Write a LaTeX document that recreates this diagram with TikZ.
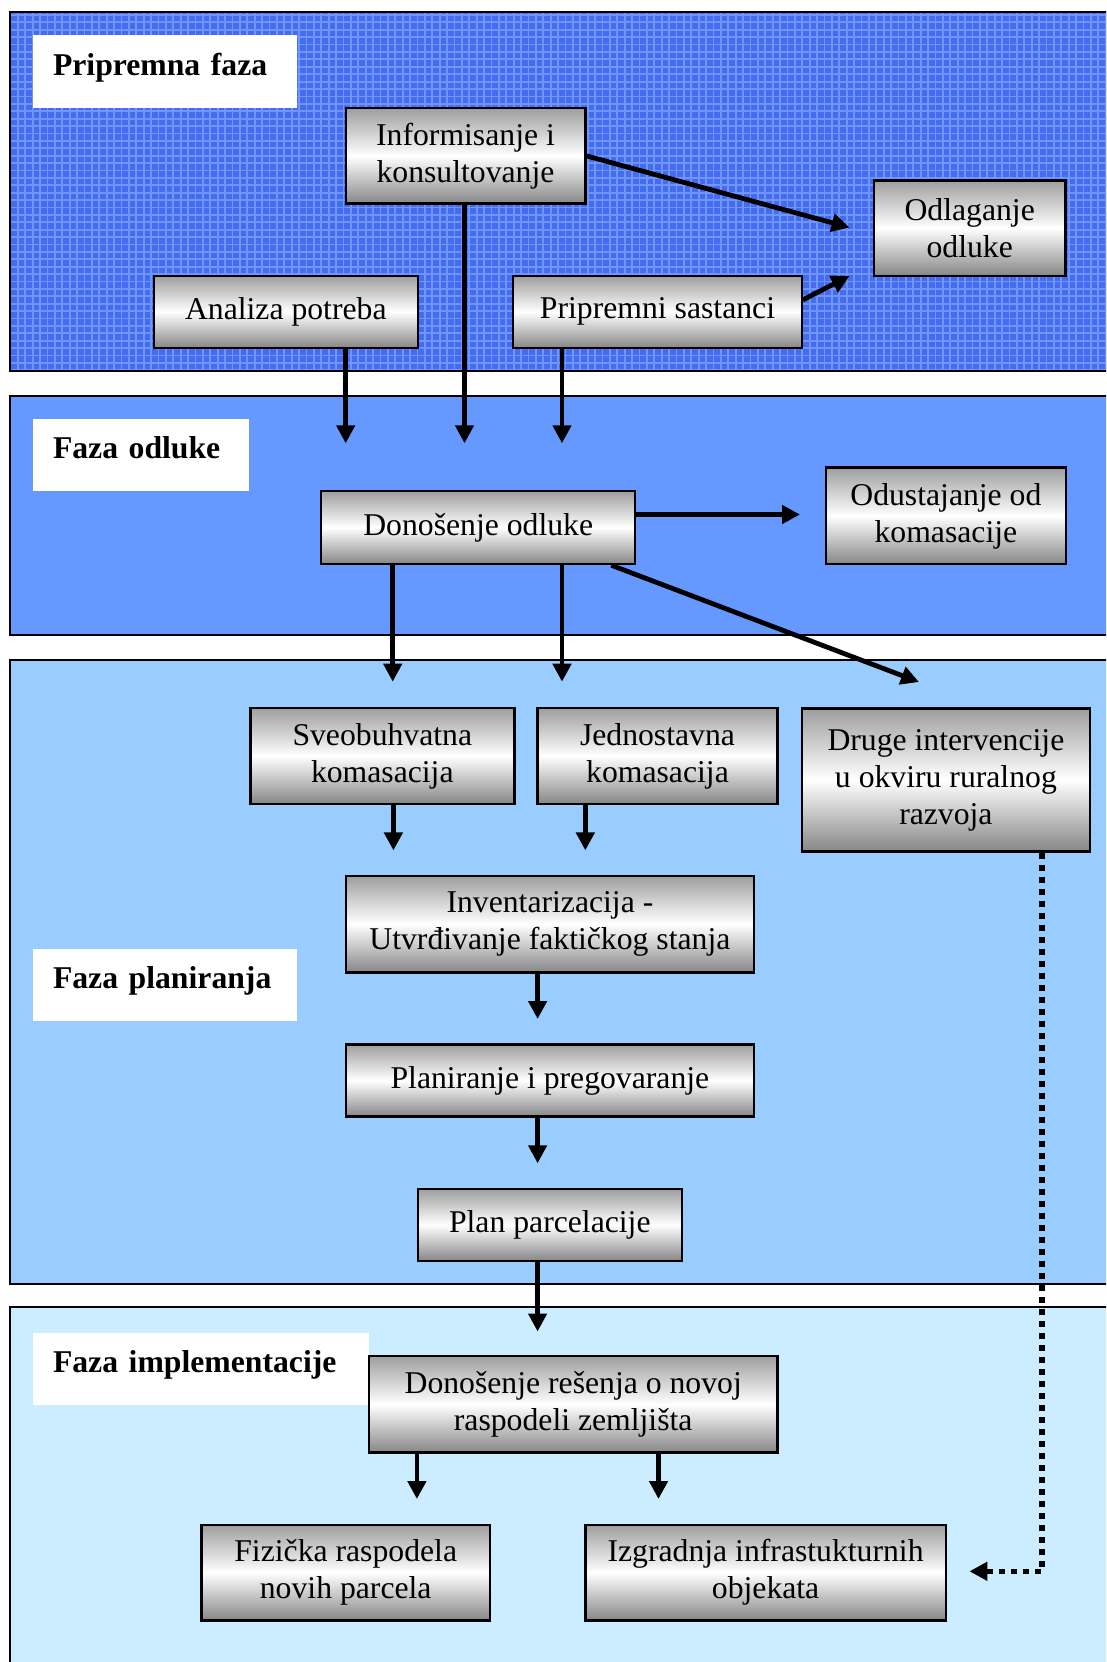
\documentclass[tikz,border=0pt]{standalone}
\usepackage{fontspec}
\setmainfont{Liberation Serif}
\usetikzlibrary{arrows.meta,calc}

\definecolor{bandA}{RGB}{68,108,240}
\definecolor{bandAgrid}{RGB}{112,150,252}
\definecolor{bandB}{RGB}{102,153,255}
\definecolor{bandC}{RGB}{153,204,255}
\definecolor{bandD}{RGB}{204,236,255}
\definecolor{boxgrey}{RGB}{158,158,158}

\tikzset{
  band/.style={draw=black, line width=2pt},
  gridln/.style={bandAgrid, line width=1.8pt},
  phase/.style={fill=white, font=\fontsize{31.7}{37}\selectfont\bfseries,
    align=left, inner xsep=20pt, inner ysep=0pt,
    text height=22pt, text depth=15pt},
  stepbox/.style={draw=black, line width=2.4pt, top color=boxgrey,
    bottom color=boxgrey!85!black, middle color=white, align=center,
    inner sep=0pt},
  sized/.style 2 args={minimum width=#1pt, minimum height=#2pt},
  arr/.style={line width=4.8pt, -{Triangle[length=18pt,width=18pt]}},
  dotarr/.style={line width=5.5pt, dash pattern=on 6pt off 6pt,
    -{Triangle[length=18pt,width=18pt]}},
}

\begin{document}
\begin{tikzpicture}[x=1pt, y=-1pt, font=\fontsize{31.7}{37}\selectfont]
\useasboundingbox (0,0) rectangle (1106,1662);
\clip (0,0) rectangle (1106,1662);

% ---- phase bands ----
\fill[bandA] (9.5,12) rectangle (1120,371);
\begin{scope}
  \clip (9.5,12) rectangle (1120,371);
  \foreach \i in {0,...,151} \draw[gridln] (\i*7.4+3, 12) -- (\i*7.4+3, 371);
  \foreach \j in {0,...,49} \draw[gridln] (9.5, 15+\j*7.4) -- (1120, 15+\j*7.4);
\end{scope}
\draw[band] (9.5,12) rectangle (1120,371);
\draw[band, fill=bandB] (9.5,395.5) rectangle (1120,635);
\draw[band, fill=bandC] (9.5,659.5) rectangle (1120,1284);
\draw[band, fill=bandD] (9.5,1306.5) rectangle (1120,1700);

% ---- phase titles ----
\node[phase, sized={264}{73}, text width=224pt] (lprep) at (165,71.6) {Pripremna faza};
\node[phase, sized={216}{72}, text width=176pt] (lodl) at (141,455) {Faza odluke};
\node[phase, sized={264}{72}, text width=224pt] (lplan) at (165,985) {Faza planiranja};
\node[phase, sized={336}{72}, text width=296pt] (limpl) at (201,1369) {Faza implementacije};

% ---- process steps ----
\node[stepbox, sized={239.6}{95.4}] (inf) at (465.5,155.9) {Informisanje i\\konsultovanje};
\node[stepbox, sized={191.9}{95.4}] (odl) at (969.7,228) {Odlaganje\\odluke};
\node[stepbox, sized={264}{72.1}] (ana) at (285.8,311.8) {Analiza potreba};
\node[stepbox, sized={288.5}{72.1}] (pri) at (657.5,311.8) {Pripremni sastanci};
\node[stepbox, sized={313.9}{73.1}] (don) at (478.2,527.5) {Donošenje odluke};
\node[stepbox, sized={239.7}{96.5}] (odu) at (945.9,515.9) {Odustajanje od\\komasacije};
\node[stepbox, sized={264}{95.5}] (sve) at (382.3,756) {Sveobuhvatna\\komasacija};
\node[stepbox, sized={239.7}{95.5}] (jed) at (657.5,756) {Jednostavna\\komasacija};
\node[stepbox, sized={288.4}{143.2}] (dru) at (945.9,779.9) {Druge intervencije\\u okviru ruralnog\\razvoja};
\node[stepbox, sized={408.3}{96.5}] (inv) at (549.9,924.1) {Inventarizacija -\\Utvrđivanje faktičkog stanja};
\node[stepbox, sized={408.3}{72.1}] (pla) at (549.9,1080.5) {Planiranje i pregovaranje};
\node[stepbox, sized={264}{72}] (ppar) at (549.8,1224.8) {Plan parcelacije};
\node[stepbox, sized={408.3}{96.5}] (dre) at (573.2,1404.4) {Donošenje rešenja o novoj\\raspodeli zemljišta};
\node[stepbox, sized={288.4}{95.4}] (fiz) at (345.7,1572.6) {Fizička raspodela\\novih parcela};
\node[stepbox, sized={360.6}{95.4}] (izg) at (765.6,1572.6) {Izgradnja infrastukturnih\\objekata};

% ---- arrow end points ----
\coordinate (t1) at (849.5,227.5);
\coordinate (t2) at (849.5,276);
\coordinate (a1) at (345.7,443.3);
\coordinate (a2) at (464.5,443.3);
\coordinate (a3) at (562,443.3);
\coordinate (t4) at (800,514.5);
\coordinate (t5) at (392.7,681.7);
\coordinate (t6) at (562,681.7);
\coordinate (t7) at (919,682);
\coordinate (t8) at (393.4,850.4);
\coordinate (t9) at (585.3,850.4);
\coordinate (t10) at (537.6,1019);
\coordinate (t11) at (537.6,1163.3);
\coordinate (t12) at (537.6,1331.5);
\coordinate (t13) at (416.9,1499);
\coordinate (t14) at (658.5,1499);
\coordinate (bend) at (1042.2,1571.3);
\coordinate (t15) at (969.4,1571.3);

% ---- connectors ----
\draw[arr] (inf.east) -- (t1);
\draw[arr] ($(pri.east)+(0,-12)$) -- (t2);
\draw[arr] (ana.south -| a1) -- (a1);
\draw[arr] (inf.south -| a2) -- (a2);
\draw[arr] (pri.south -| a3) -- (a3);
\draw[arr] (don.east |- t4) -- (t4);
\draw[arr] (don.south -| t5) -- (t5);
\draw[arr] (don.south -| t6) -- (t6);
\draw[arr] ($(don.south east)+(-25,0)$) -- (t7);
\draw[arr] (sve.south -| t8) -- (t8);
\draw[arr] (jed.south -| t9) -- (t9);
\draw[arr] (inv.south -| t10) -- (t10);
\draw[arr] (pla.south -| t11) -- (t11);
\draw[arr] (ppar.south -| t12) -- (t12);
\draw[arr] (dre.south -| t13) -- (t13);
\draw[arr] (dre.south -| t14) -- (t14);
\draw[dotarr] (dru.south -| bend) -- (bend) -- (t15);

\end{tikzpicture}
\end{document}
